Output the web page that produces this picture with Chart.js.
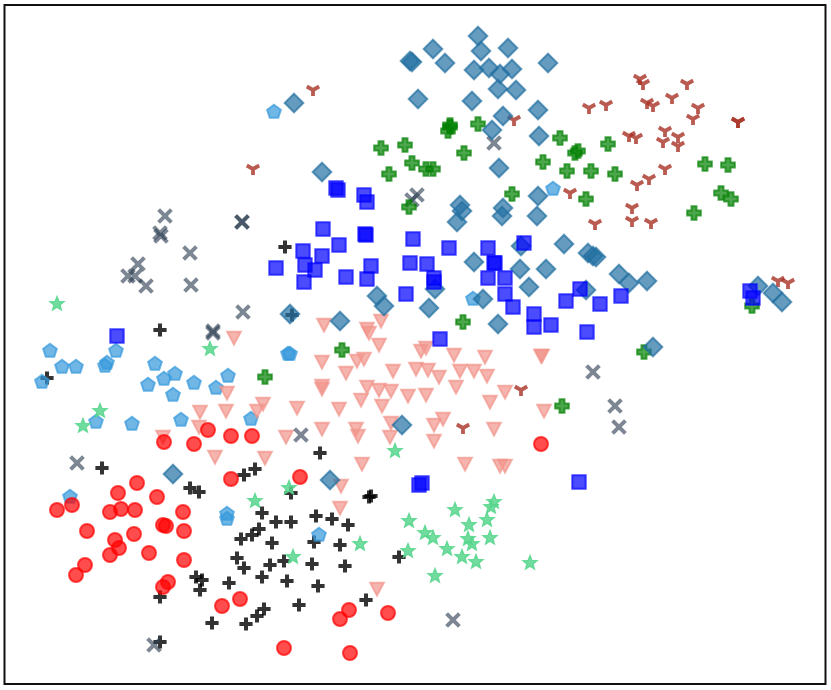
<!DOCTYPE html>
<html>
<head>
<meta charset="utf-8">
<script src="https://cdn.jsdelivr.net/npm/chart.js@4"></script>
<style>
  html, body { margin: 0; padding: 0; background: #fff; }
  canvas { display: block; }
</style>
</head>
<body>
<canvas id="graph" width="831" height="690"></canvas>
<script>
// values, x grows right, y grows down
const redCircles = [[57,510],[72,505],[87,531],[110,512],[121,509],[135,510],[118,493],[137,483],[157,497],[183,512],[184,531],[163,525],[166,526],[134,534],[115,540],[119,548],[110,555],[149,553],[184,560],[85,565],[76,575],[168,582],[163,587],[231,479],[240,599],[222,606],[164,442],[194,444],[208,430],[231,436],[252,436],[300,477],[349,610],[340,619],[388,613],[284,648],[350,653],[541,444]];
const blackPlus = [[102,468],[190,488],[199,492],[244,475],[255,469],[262,513],[276,522],[259,529],[252,535],[241,539],[272,543],[237,558],[244,568],[270,565],[262,577],[196,577],[202,580],[200,590],[229,583],[160,597],[264,609],[257,616],[246,624],[212,623],[160,642],[291,493],[369,497],[371,496],[291,522],[316,516],[332,519],[348,525],[314,542],[340,545],[399,557],[284,561],[312,564],[345,566],[287,581],[318,586],[366,600],[299,605],[160,330],[47,378],[285,247],[320,453],[292,315]];
const blueSquares = [[336,188],[338,190],[364,195],[367,202],[323,229],[365,234],[366,235],[413,239],[339,245],[524,243],[276,268],[303,251],[449,248],[488,248],[322,256],[305,265],[315,270],[304,282],[346,277],[371,266],[367,279],[410,263],[427,264],[434,278],[434,282],[406,294],[495,263],[494,263],[488,278],[505,278],[505,294],[513,307],[534,314],[534,327],[551,325],[440,339],[580,289],[566,301],[600,304],[621,296],[587,332],[750,291],[753,298],[117,336],[419,485],[422,483],[579,482]];
const steelDiamonds = [[478,36],[481,51],[508,48],[433,49],[410,61],[412,62],[445,63],[474,70],[489,68],[500,74],[512,69],[548,63],[498,89],[516,90],[418,99],[472,101],[538,110],[294,103],[503,116],[492,130],[539,136],[499,168],[322,172],[538,196],[460,205],[462,211],[457,222],[503,208],[502,216],[537,216],[521,246],[474,262],[520,269],[546,269],[529,287],[435,289],[377,296],[384,306],[483,299],[429,308],[498,324],[290,314],[340,321],[402,425],[564,244],[588,253],[593,256],[596,257],[619,274],[629,283],[647,281],[586,290],[758,286],[773,293],[782,302],[653,347],[173,474],[330,480]];
const greenPlus = [[450,125],[448,131],[450,127],[478,124],[381,148],[405,145],[412,163],[426,169],[433,169],[389,174],[464,153],[543,162],[512,194],[409,207],[560,138],[578,151],[575,153],[608,144],[567,171],[591,171],[615,174],[586,199],[705,164],[728,165],[721,193],[731,199],[694,213],[752,306],[644,352],[562,406],[463,322],[342,350],[265,377]];
const brownTri = [[313,90],[514,120],[253,169],[640,79],[643,84],[687,84],[672,98],[589,108],[606,105],[647,103],[653,106],[698,108],[693,119],[738,122],[738,122],[665,131],[629,136],[636,138],[678,137],[663,142],[678,146],[665,169],[649,179],[637,185],[570,193],[632,208],[632,221],[651,223],[595,224],[778,281],[788,283],[521,390],[463,428]];
const greyCross = [[165,216],[242,222],[242,222],[160,233],[161,236],[190,253],[138,264],[128,276],[135,276],[146,286],[191,285],[243,312],[213,331],[213,333],[77,463],[494,143],[417,195],[412,200],[301,435],[593,372],[615,406],[619,427],[154,645],[453,620]];
const salmonTriangles = [[324,325],[367,329],[369,333],[381,321],[379,345],[322,362],[357,361],[364,359],[346,373],[393,371],[416,369],[428,370],[439,377],[421,351],[426,348],[454,355],[485,357],[460,371],[474,371],[487,376],[456,387],[322,386],[322,389],[367,387],[379,390],[391,391],[361,400],[339,409],[382,406],[408,396],[426,395],[505,392],[490,402],[541,356],[542,356],[544,411],[297,408],[322,429],[356,429],[358,436],[391,423],[390,437],[434,425],[443,419],[434,441],[494,429],[286,437],[362,464],[465,464],[500,466],[505,466],[234,338],[227,393],[263,404],[257,411],[200,412],[226,411],[199,427],[163,437],[215,457],[265,458],[341,486],[340,508],[377,589]];
const mintStars = [[57,304],[210,349],[100,411],[83,426],[395,451],[255,501],[289,488],[293,557],[360,544],[409,521],[408,551],[425,533],[433,538],[447,549],[435,576],[455,510],[469,525],[468,539],[472,544],[462,557],[476,562],[487,520],[490,538],[491,507],[494,502],[530,563]];
const skyPentagons = [[274,112],[553,189],[50,351],[62,367],[76,367],[116,351],[107,363],[105,366],[42,382],[155,364],[175,374],[164,379],[148,385],[173,395],[194,383],[216,388],[228,376],[96,422],[132,424],[181,420],[251,419],[288,354],[290,354],[473,299],[70,497],[227,514],[227,519],[319,535]];

const xLimits = [4.5, 825.5];
const yLimits = [5, 684];

// matplotlib style markers, drawn once and handed to chart.js as pointStyle
function polygon(ctx, pts) {
  ctx.beginPath();
  pts.forEach((p, i) => i ? ctx.lineTo(p[0], p[1]) : ctx.moveTo(p[0], p[1]));
  ctx.closePath();
}

function ring(n, r, inner) {
  const pts = [];
  const count = inner ? n * 2 : n;
  for (let i = 0; i < count; i++) {
    const rad = inner && i % 2 ? inner : r;
    const a = -Math.PI / 2 + i * 2 * Math.PI / count;
    pts.push([rad * Math.cos(a), rad * Math.sin(a)]);
  }
  return pts;
}

const shapes = {
  circle(ctx) { ctx.beginPath(); ctx.arc(0, 0, 7, 0, Math.PI * 2); ctx.fill(); ctx.stroke(); },
  square(ctx) { polygon(ctx, [[-6.7,-6.7],[6.7,-6.7],[6.7,6.7],[-6.7,6.7]]); ctx.fill(); ctx.stroke(); },
  diamond(ctx) { polygon(ctx, [[0,-9.3],[9.3,0],[0,9.3],[-9.3,0]]); ctx.fill(); ctx.stroke(); },
  triangle(ctx) { polygon(ctx, [[-6.8,-6.2],[6.8,-6.2],[0,6.6]]); ctx.fill(); ctx.stroke(); },
  pentagon(ctx) { polygon(ctx, ring(5, 7.2)); ctx.fill(); ctx.stroke(); },
  star(ctx) { polygon(ctx, ring(5, 7.4, 3.2)); ctx.fill(); ctx.stroke(); },
  fatPlus(ctx) {
    polygon(ctx, [[-2.5,-6.8],[2.5,-6.8],[2.5,-2.5],[6.8,-2.5],[6.8,2.5],[2.5,2.5],[2.5,6.8],[-2.5,6.8],[-2.5,2.5],[-6.8,2.5],[-6.8,-2.5],[-2.5,-2.5]]);
    ctx.fill(); ctx.stroke();
  },
  plus(ctx) {
    ctx.beginPath();
    ctx.moveTo(-6.6, 0); ctx.lineTo(6.6, 0); ctx.moveTo(0, -6.6); ctx.lineTo(0, 6.6);
    ctx.stroke();
  },
  cross(ctx) {
    ctx.beginPath();
    ctx.moveTo(-6.4, -6.4); ctx.lineTo(6.4, 6.4); ctx.moveTo(-6.4, 6.4); ctx.lineTo(6.4, -6.4);
    ctx.stroke();
  },
  tri(ctx) {
    ctx.beginPath();
    ctx.moveTo(0, 0); ctx.lineTo(0, 6); ctx.moveTo(0, 0); ctx.lineTo(-6.2, -3.5); ctx.moveTo(0, 0); ctx.lineTo(6.2, -3.5);
    ctx.stroke();
  }
};

function marker(shape, color, alpha, lineWidth) {
  const c = document.createElement('canvas');
  c.width = 26;
  c.height = 26;
  const ctx = c.getContext('2d');
  ctx.translate(13, 13);
  ctx.globalAlpha = alpha;
  ctx.fillStyle = color;
  ctx.strokeStyle = color;
  ctx.lineWidth = lineWidth;
  ctx.lineJoin = 'miter';
  shapes[shape](ctx);
  return c;
}

const frame = {
  id: 'frame',
  afterDraw(chart) {
    const a = chart.chartArea;
    const ctx = chart.ctx;
    ctx.save();
    ctx.strokeStyle = '#111';
    ctx.lineWidth = 2;
    ctx.strokeRect(a.left, a.top, a.width, a.height);
    ctx.restore();
  }
};

function series(data, style) {
  return { data, pointStyle: style, pointRadius: 7, clip: false };
}

new Chart(document.getElementById('graph'), {
  type: 'scatter',
  data: {
    datasets: [
      series(redCircles, marker('circle', '#ff0000', 0.7, 2)),
      series(blueSquares, marker('square', '#0000ff', 0.7, 2)),
      series(steelDiamonds, marker('diamond', '#2471a3', 0.7, 2)),
      series(greenPlus, marker('fatPlus', '#008000', 0.7, 2)),
      series(brownTri, marker('tri', '#a93226', 0.8, 3.8)),
      series(greyCross, marker('cross', '#2c3e50', 0.62, 4)),
      series(salmonTriangles, marker('triangle', '#f1948a', 0.7, 2)),
      series(mintStars, marker('star', '#58d68d', 0.85, 1.4)),
      series(skyPentagons, marker('pentagon', '#3498db', 0.7, 2)),
      series(blackPlus, marker('plus', '#000000', 0.8, 4))
    ]
  },
  options: {
    responsive: false,
    animation: false,
    layout: {
      autoPadding: false,
      padding: { left: xLimits[0], top: yLimits[0], right: 831 - xLimits[1], bottom: 690 - yLimits[1] }
    },
    scales: {
      x: { display: false, min: xLimits[0], max: xLimits[1] },
      y: { display: false, min: yLimits[0], max: yLimits[1], reverse: true }
    },
    plugins: {
      legend: { display: false },
      tooltip: { enabled: false }
    }
  },
  plugins: [frame]
});
</script>
</body>
</html>
